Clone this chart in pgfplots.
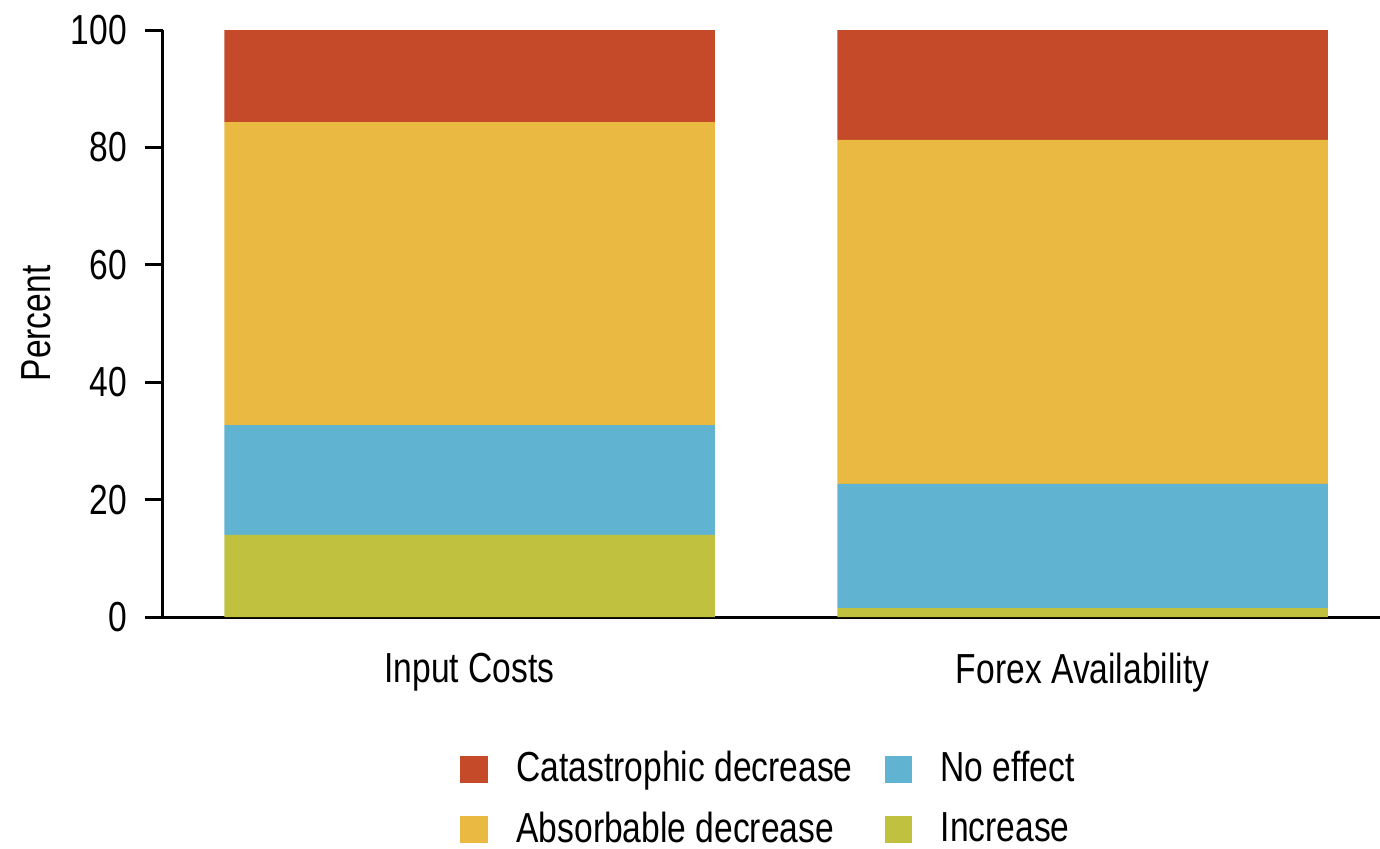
\documentclass[border=0pt]{standalone}
\usepackage{pgfplots}
\pgfplotsset{compat=1.18}
\usepackage{fontspec}
\setmainfont[FakeStretch=0.8]{Liberation Sans}

\definecolor{catred}{RGB}{196,74,42}
\definecolor{absyel}{RGB}{233,185,65}
\definecolor{noblue}{RGB}{96,180,209}
\definecolor{incolive}{RGB}{192,193,62}

\begin{document}
\begin{tikzpicture}
\useasboundingbox (-40.75pt,-57.75pt) rectangle (304.25pt,154.25pt);
\begin{axis}[
    at={(0,0)}, anchor=south west,
    scale only axis,
    width=304.25pt, height=146.75pt,
    ybar stacked,
    bar width=0.8,
    xmin=-0.5, xmax=1.485,
    ymin=0, ymax=100,
    xtick={0,1},
    xticklabels={Input Costs, Forex Availability},
    ytick={0,20,40,60,80,100},
    axis x line=bottom, axis y line=left,
    axis line style={-, line width=0.75pt},
    x tick style={draw=none},
    y tick style={line width=0.75pt, black},
    tick align=outside,
    major tick length=4.5pt,
    tick label style={font=\fontsize{10.5}{12}\selectfont},
    /pgf/number format/assume math mode=true,
    yticklabel style={xshift=-1pt},
    xticklabel style={yshift=-1pt},
    ylabel={Percent},
    ylabel style={font=\fontsize{10.5}{12}\selectfont, yshift=-2pt},
    legend columns=2,
    transpose legend,
    reverse legend,
    legend style={draw=none, at={(0.5,-0.2)}, anchor=north,
        font=\fontsize{10.5}{12}\selectfont,
        /tikz/every even column/.append style={column sep=6pt},
        row sep=2pt},
    legend image code/.code={\fill[#1] (0pt,-3.4pt) rectangle (6.8pt,3.4pt); \path (12pt,0);},
    legend cell align=left,
]
\addplot[fill=incolive, draw=none] coordinates {(0,14.0) (1,1.5)};
\addplot[fill=noblue, draw=none] coordinates {(0,18.7) (1,21.2)};
\addplot[fill=absyel, draw=none] coordinates {(0,51.6) (1,58.6)};
\addplot[fill=catred, draw=none] coordinates {(0,15.7) (1,18.7)};
\legend{Increase, No effect, Absorbable decrease, Catastrophic decrease}
\end{axis}
\end{tikzpicture}
\end{document}
